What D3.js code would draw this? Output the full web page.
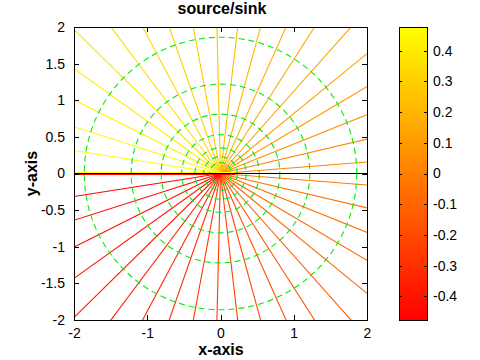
<!DOCTYPE html>
<html>
<head>
<meta charset="utf-8">
<script src="https://cdn.jsdelivr.net/npm/d3@7"></script>
<style>
  body { margin: 0; background: #fff; }
  text { font-family: "Liberation Sans", Arial, Helvetica, sans-serif; }
</style>
</head>
<body>
<div id="chart"></div>
<script>
// streamlines: angle (deg) of each contour ray of psi = theta / 360
var upperAngles = [4.5, 13.2, 21.9, 30.7, 39.3, 48.3, 57.3, 65.9, 74.7, 83.3, 91.4,
    100.5, 109.3, 118.0, 126.8, 135.5, 144.4, 153.3, 162.3, 171.1];
var lowerAngles = [-4.5, -13.2, -21.9, -30.7, -39.3, -48.3, -57.3, -65.9, -74.7, -83.3, -91.4,
    -100.5, -109.3, -118.0, -126.8, -135.5, -144.4, -153.3, -162.3, -171.1];
// contour levels bunched on the branch cut (negative x axis)
var cutLevels = [0.499, -0.499];
// equipotential circles (radius)
var potentialRadii = [1.86, 1.22, 0.81, 0.53, 0.35, 0.23, 0.15];
var xTicks = [-2, -1, 0, 1, 2];
var yTicks = [-2, -1.5, -1, -0.5, 0, 0.5, 1, 1.5, 2];
var cbarRange = [-0.477, 0.477];
var cbarTicks = [-0.4, -0.3, -0.2, -0.1, 0, 0.1, 0.2, 0.3, 0.4];

var width = 480, height = 360;
var svg = d3.select('#chart').append('svg')
    .attr('width', width)
    .attr('height', height);

var x = d3.scaleLinear().domain([-2, 2]).range([74, 367]);
var y = d3.scaleLinear().domain([-2, 2]).range([320, 27]);
var color = d3.scaleLinear().domain(cbarRange).range(['#ff0000', '#ffff00']).clamp(true);
var fmt = function (d) { return String(d); };

svg.append('clipPath').attr('id', 'plot-clip')
    .append('rect')
    .attr('x', x(-2)).attr('y', y(2))
    .attr('width', x(2) - x(-2)).attr('height', y(-2) - y(2));

var plot = svg.append('g').attr('clip-path', 'url(#plot-clip)');

var rays = upperAngles.concat(lowerAngles);
plot.selectAll('line.stream')
    .data(rays)
    .enter().append('line')
    .attr('class', 'stream')
    .attr('x1', x(0)).attr('y1', y(0))
    .attr('x2', function (d) { return x(3 * Math.cos(d * Math.PI / 180)); })
    .attr('y2', function (d) { return y(3 * Math.sin(d * Math.PI / 180)); })
    .style('stroke', function (d) { return color(d / 360); })
    .style('stroke-width', 1.1);

// branch cut: levels close to +-0.5 pile up along y = 0, x < 0
plot.selectAll('line.cut')
    .data(cutLevels)
    .enter().append('line')
    .attr('class', 'cut')
    .attr('x1', x(-2)).attr('x2', x(0.2))
    .attr('y1', function (d) { return y(0) + (d > 0 ? -1 : 1); })
    .attr('y2', function (d) { return y(0) + (d > 0 ? -1 : 1); })
    .style('stroke', function (d) { return color(d); })
    .style('stroke-width', 1.2);

plot.selectAll('circle.pot')
    .data(potentialRadii)
    .enter().append('circle')
    .attr('class', 'pot')
    .attr('cx', x(0)).attr('cy', y(0))
    .attr('r', function (d) { return x(d) - x(0); })
    .style('fill', 'none')
    .style('stroke', '#00ee00')
    .style('stroke-width', 1.1)
    .style('stroke-dasharray', '6,4');

plot.append('line')
    .attr('x1', x(-2)).attr('x2', x(2))
    .attr('y1', y(0)).attr('y2', y(0))
    .style('stroke', '#000')
    .style('stroke-width', 1);

// axes: ticks inward on all sides, box on
var tickLen = 5;
var axes = svg.append('g').style('shape-rendering', 'crispEdges');
axes.append('g')
    .attr('transform', 'translate(0,' + y(-2) + ')')
    .call(d3.axisBottom(x).tickValues(xTicks).tickSizeInner(-tickLen).tickSizeOuter(0).tickPadding(8).tickFormat(fmt));
axes.append('g')
    .attr('transform', 'translate(0,' + y(2) + ')')
    .call(d3.axisTop(x).tickValues(xTicks).tickSizeInner(-tickLen).tickSizeOuter(0).tickFormat(''));
axes.append('g')
    .attr('transform', 'translate(' + x(-2) + ',0)')
    .call(d3.axisLeft(y).tickValues(yTicks).tickSizeInner(-tickLen).tickSizeOuter(0).tickPadding(9).tickFormat(fmt));
axes.append('g')
    .attr('transform', 'translate(' + x(2) + ',0)')
    .call(d3.axisRight(y).tickValues(yTicks).tickSizeInner(-tickLen).tickSizeOuter(0).tickFormat(''));
axes.selectAll('.domain').style('stroke', '#000');
axes.selectAll('.tick line').style('stroke', '#000');
axes.selectAll('.tick text')
    .style('font-size', '14px')
    .style('fill', '#000');

// titles
svg.append('text')
    .attr('x', 222).attr('y', 14)
    .attr('text-anchor', 'middle')
    .style('font-size', '16px').style('font-weight', 'bold')
    .text('source/sink');
svg.append('text')
    .attr('x', 221).attr('y', 355)
    .attr('text-anchor', 'middle')
    .style('font-size', '16px').style('font-weight', 'bold')
    .text('x-axis');
svg.append('text')
    .attr('transform', 'translate(37,' + y(0) + ') rotate(-90)')
    .attr('text-anchor', 'middle')
    .style('font-size', '16px').style('font-weight', 'bold')
    .text('y-axis');

// colorbar
var cb = { x: 399, w: 28 };
var cy = d3.scaleLinear().domain(cbarRange).range([320, 27]);
var grad = svg.append('defs').append('linearGradient')
    .attr('id', 'autumn')
    .attr('x1', 0).attr('y1', 1).attr('x2', 0).attr('y2', 0);
grad.selectAll('stop')
    .data(cbarRange)
    .enter().append('stop')
    .attr('offset', function (d, i) { return i; })
    .attr('stop-color', function (d) { return color(d); });

svg.append('rect')
    .attr('x', cb.x).attr('y', cy(cbarRange[1]))
    .attr('width', cb.w).attr('height', cy(cbarRange[0]) - cy(cbarRange[1]))
    .style('fill', 'url(#autumn)')
    .style('stroke', '#000')
    .style('stroke-width', 1)
    .style('shape-rendering', 'crispEdges');

var cbAxis = svg.append('g').style('shape-rendering', 'crispEdges');
cbAxis.append('g')
    .attr('transform', 'translate(' + (cb.x + cb.w) + ',0)')
    .call(d3.axisRight(cy).tickValues(cbarTicks).tickSizeInner(-3).tickSizeOuter(0).tickPadding(6).tickFormat(fmt));
cbAxis.append('g')
    .attr('transform', 'translate(' + cb.x + ',0)')
    .call(d3.axisLeft(cy).tickValues(cbarTicks).tickSizeInner(-3).tickSizeOuter(0).tickFormat(''));
cbAxis.selectAll('.domain').remove();
cbAxis.selectAll('.tick line').style('stroke', '#000');
cbAxis.selectAll('.tick text')
    .style('font-size', '14px')
    .style('fill', '#000');
</script>
</body>
</html>
